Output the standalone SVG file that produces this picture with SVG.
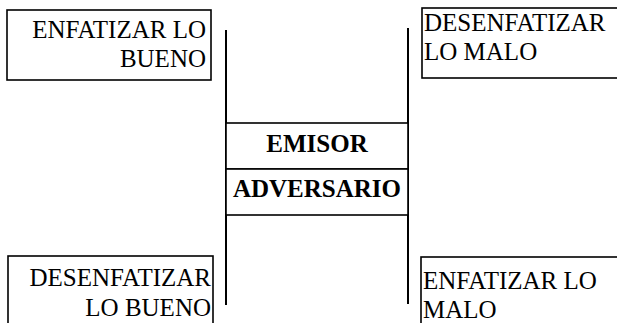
<svg xmlns="http://www.w3.org/2000/svg" width="617" height="323" viewBox="0 0 617 323">
<style>
.box{fill:#fff;stroke:#000;stroke-width:1.6}
text{font-family:'Liberation Serif','DejaVu Serif',serif;font-size:25px;fill:#000}
.b{font-weight:bold;text-anchor:middle}
.r{text-anchor:end}
.ln{stroke:#000;stroke-width:2;fill:none}
</style>
<rect width="617" height="323" fill="#fff"/>
<g id="connectors">
<line class="ln" x1="226" y1="30" x2="226" y2="305"/>
<line class="ln" x1="408" y1="28" x2="408" y2="304"/>
</g>
<g id="emisor">
<rect class="box" x="226" y="123" width="182" height="46"/>
<text class="b" x="317" y="152" font-family="Liberation Serif, serif">EMISOR</text>
</g>
<g id="adversario">
<rect class="box" x="226" y="169" width="182" height="46"/>
<text class="b" x="317" y="197" font-family="Liberation Serif, serif">ADVERSARIO</text>
</g>
<g id="enfatizar-bueno">
<rect class="box" x="7" y="10" width="204" height="70"/>
<text class="r" x="206" y="38" font-family="Liberation Serif, serif">ENFATIZAR LO</text>
<text class="r" x="206" y="67" font-family="Liberation Serif, serif">BUENO</text>
</g>
<g id="desenfatizar-malo">
<rect class="box" x="422" y="8" width="200" height="70"/>
<text x="424" y="31" font-family="Liberation Serif, serif">DESENFATIZAR</text>
<text x="424" y="60" font-family="Liberation Serif, serif">LO MALO</text>
</g>
<g id="desenfatizar-bueno">
<rect class="box" x="8" y="256" width="205" height="80"/>
<text class="r" x="211" y="286" font-family="Liberation Serif, serif">DESENFATIZAR</text>
<text class="r" x="211" y="316" font-family="Liberation Serif, serif">LO BUENO</text>
</g>
<g id="enfatizar-malo">
<rect class="box" x="421" y="257" width="200" height="80"/>
<text x="423" y="289" font-family="Liberation Serif, serif">ENFATIZAR LO</text>
<text x="423" y="318" font-family="Liberation Serif, serif">MALO</text>
</g>
</svg>
